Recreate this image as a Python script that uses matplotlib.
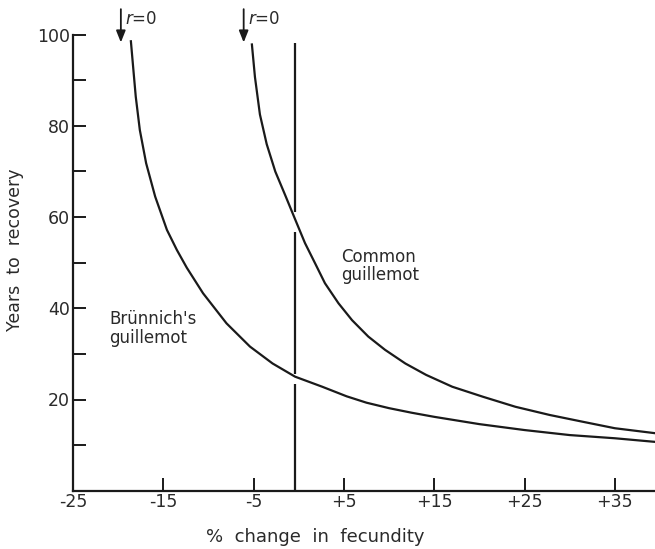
import matplotlib
matplotlib.use("Agg")
import matplotlib.pyplot as plt

plt.rcParams['font.family'] = ['DejaVu Sans']

# ---- data ----
brunnich_x = [-18.6, -18.3, -18.05, -17.6, -16.9, -15.9, -14.6, -13.5, -12.4, -10.6,
              -8.0, -5.4, -2.9, -0.4, 2.6, 5.3, 7.5, 10.0, 12.5, 15.0,
              20.0, 25.0, 30.0, 35.0, 39.5]
brunnich_y = [98.8, 92.0, 86.4, 79.1, 71.8, 64.5, 57.2, 52.8, 48.9, 43.3,
              36.7, 31.6, 27.9, 25.0, 22.8, 20.7, 19.3, 18.1, 17.1, 16.2,
              14.6, 13.3, 12.2, 11.5, 10.7]

common_x = [-5.2, -4.85, -4.3, -3.55, -2.6, -1.5, -0.42, 0.69, 1.8, 2.9, 4.4, 5.9,
            7.7, 9.55, 11.8, 14.1, 17.0, 20.4, 24.0, 27.8, 31.5, 35.0, 39.5]
common_y = [98.1, 90.7, 82.5, 76.0, 70.0, 64.8, 59.6, 54.3, 49.9, 45.5, 41.1, 37.4,
            33.8, 30.9, 27.9, 25.4, 22.8, 20.6, 18.4, 16.6, 15.1, 13.7, 12.6]

xtick_vals = [-25, -15, -5, 5, 15, 25, 35]
xtick_labels = ['-25', '-15', '-5', '+5', '+15', '+25', '+35']
ytick_major = [20, 40, 60, 80, 100]
ytick_labels = ['20', '40', '60', '80', '100']
ytick_minor = [10, 30, 50, 70, 90]

r0_x = [-19.7, -6.1]          # positions of the r = 0 arrows
ref_x = -0.4                  # vertical reference line (zero change)
ref_segments = [(0, 23.5), (25.7, 56.8), (61.2, 98.2)]

# ---- figure ----
W, H = 655, 549
INK = '#1a1a1a'
TXT = '#2a2a2a'
fig = plt.figure(figsize=(W / 100, H / 100), dpi=100)
ax = fig.add_axes([73 / W, 1 - 490.7 / H, (W - 73) / W, (490.7 - 34.7) / H])
ax.set_xlim(-25, 39.45)
ax.set_ylim(0, 100)

lw = 1.6
ax.plot(brunnich_x, brunnich_y, color=INK, lw=lw, solid_capstyle='butt',
        solid_joinstyle='round')
ax.plot(common_x, common_y, color=INK, lw=lw, solid_capstyle='butt',
        solid_joinstyle='round')
for y0, y1 in ref_segments:
    ax.plot([ref_x, ref_x], [y0, y1], color=INK, lw=lw, solid_capstyle='butt')

for s in ['top', 'right']:
    ax.spines[s].set_visible(False)
for s in ['left', 'bottom']:
    ax.spines[s].set_linewidth(1.6)
    ax.spines[s].set_color(INK)

ax.set_xticks(xtick_vals)
ax.set_xticklabels(xtick_labels)
ax.set_yticks(ytick_major)
ax.set_yticklabels(ytick_labels)
ax.set_yticks(ytick_minor, minor=True)
ax.tick_params(axis='both', which='both', direction='in', length=9.5, width=1.4,
               color=INK, labelsize=12.5, labelcolor=TXT)
ax.tick_params(axis='x', pad=2)
ax.tick_params(axis='y', pad=2)

# arrows and r = 0 labels
for xa in r0_x:
    ax.annotate('', xy=(xa, 98.3), xytext=(xa, 105.6), annotation_clip=False,
                arrowprops=dict(arrowstyle='-|>,head_length=0.7,head_width=0.28',
                                color=INK, lw=1.3, shrinkA=0, shrinkB=0))
    ax.text(xa + 0.5, 103.4, r'$r$=0', fontsize=12, ha='left', va='center',
            color=TXT, clip_on=False)

ax.text(-21.0, 35.5, "Brünnich's\nguillemot", fontsize=12, ha='left', va='center',
        color=TXT, linespacing=1.05)
ax.text(4.7, 49.3, "Common\nguillemot", fontsize=12, ha='left', va='center',
        color=TXT, linespacing=1.05)

fig.text(15 / W, 1 - 250 / H, 'Years  to  recovery', rotation=90, ha='center',
         va='center', fontsize=12.5, color=TXT)
fig.text(315 / W, 1 - 536.7 / H, '%  change  in  fecundity', ha='center', va='center',
         fontsize=13, color=TXT)

fig.savefig('out.png', dpi=100)
